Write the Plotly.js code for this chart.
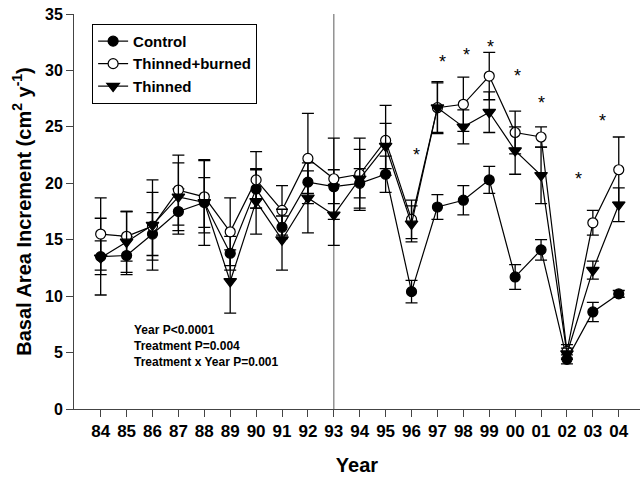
<!DOCTYPE html>
<html>
<head>
<meta charset="utf-8">
<script src="https://cdn.plot.ly/plotly-3.0.1.min.js"></script>
<style>html,body{margin:0;padding:0;background:#fff;}#chart{width:641px;height:477px;}</style>
</head>
<body>
<div id="chart"></div>
<script>
// ---- data ----
const years = ["84","85","86","87","88","89","90","91","92","93","94","95","96","97","98","99","00","01","02","03","04"];
const control      = [13.5,13.6,15.5,17.5,18.3,13.8,19.5,16.1,20.1,19.7,20.0,20.8,10.4,17.9,18.5,20.3,11.7,14.1,4.4,8.6,10.2];
const controlErr   = [3.4,1.7,1.9,2.0,2.2,1.5,1.7,1.0,1.0,1.5,1.3,1.6,1.0,1.1,1.3,1.2,1.1,0.9,0.4,0.85,0.3];
const thinBurned   = [15.5,15.3,16.2,19.4,18.8,15.7,20.3,17.6,22.2,20.4,20.8,23.8,16.8,26.7,27.0,29.5,24.5,24.1,5.1,16.5,21.2];
const thinBurnedErr= [3.2,2.2,3.0,3.1,3.2,3.0,2.5,2.2,4.0,3.6,3.2,3.1,1.7,2.2,2.4,2.1,1.9,0.9,0.6,1.1,2.9];
const thinned      = [13.4,14.8,16.3,18.8,18.3,11.3,18.4,15.0,18.7,17.2,20.4,23.3,16.4,26.7,25.0,26.3,22.9,20.7,4.9,12.3,18.1];
const thinnedErr   = [1.5,2.7,4.0,3.0,3.8,2.8,2.9,2.7,3.1,2.7,2.6,2.0,1.6,2.3,1.5,1.8,2.1,2.5,0.5,0.8,1.5];
// significance stars (x as year index, y in data units)
const starX = [12.2,13.2,14.13,15.03,16.08,17.03,18.46,19.36];
const starY = [22.9,31.1,31.7,32.4,29.9,27.5,20.7,25.9];
const statsText = ["Year P<0.0001","Treatment P=0.004","Treatment x Year P=0.001"];
const dividerYear = "93";
// ---- end data ----

const idx = years.map((_, i) => i);
const FONT = "Liberation Sans, Arial, Helvetica, sans-serif";

function trace(name, y, err, symbol, fill) {
  return {
    type: "scatter", mode: "lines+markers", name: name,
    x: idx, y: y,
    line: {color: "#000", width: 1.2},
    marker: {symbol: symbol, size: symbol === "triangle-down" ? 11 : 10, color: fill, line: {color: "#000", width: 1.2}},
    error_y: {type: "data", array: err, visible: true, color: "#000", thickness: 1.3, width: 6}
  };
}

const data = [
  trace("Control", control, controlErr, "circle", "#000"),
  trace("Thinned+burned", thinBurned, thinBurnedErr, "circle", "#fff"),
  trace("Thinned", thinned, thinnedErr, "triangle-down", "#000")
];

const divX = years.indexOf(dividerYear);
const annotations = starX.map((x, i) => ({
  x: x, y: starY[i], xref: "x", yref: "y", text: "*", showarrow: false,
  font: {family: FONT, size: 18, color: "#000"}, yshift: -4
}));
statsText.forEach((t, i) => annotations.push({
  x: 0.1025, y: 0.199 - i * 0.0405, xref: "paper", yref: "paper", xanchor: "left", yanchor: "middle",
  text: t, showarrow: false, font: {family: FONT, size: 12, color: "#000", weight: "bold"}
}));

const layout = {
  width: 641, height: 477,
  margin: {l: 74, r: 1, t: 14, b: 68},
  paper_bgcolor: "#fff", plot_bgcolor: "#fff",
  showlegend: true,
  legend: {
    x: 0.032, y: 0.975, xanchor: "left", yanchor: "top",
    bordercolor: "#000", borderwidth: 1, bgcolor: "#fff",
    font: {family: FONT, size: 15, color: "#000", weight: "bold"},
    tracegroupgap: 0, itemwidth: 30
  },
  xaxis: {
    range: [-1.03, 20.82], tickvals: idx, ticktext: years,
    showgrid: false, zeroline: false, showline: true, linecolor: "#444", linewidth: 1,
    ticks: "outside", ticklen: 7, tickcolor: "#444",
    tickfont: {family: FONT, size: 17, color: "#000", weight: "bold"},
    title: {text: "Year", font: {family: FONT, size: 20, color: "#000", weight: "bold"}, standoff: 17}
  },
  yaxis: {
    range: [0, 35], tickvals: [0,5,10,15,20,25,30,35],
    showgrid: false, zeroline: false, showline: true, linecolor: "#444", linewidth: 1,
    ticks: "outside", ticklen: 7, tickcolor: "#444",
    tickfont: {family: FONT, size: 16, color: "#000", weight: "bold"},
    title: {text: "Basal Area Increment (cm<sup>2</sup> y<sup>-1</sup>)", font: {family: FONT, size: 20, color: "#000", weight: "bold"}, standoff: 8}
  },
  shapes: [{type: "line", xref: "x", yref: "y", x0: divX, x1: divX, y0: 0, y1: 35, line: {color: "#777", width: 1.2}, layer: "below"}],
  annotations: annotations
};

Plotly.newPlot("chart", data, layout, {displayModeBar: false, staticPlot: true});
</script>
</body>
</html>
